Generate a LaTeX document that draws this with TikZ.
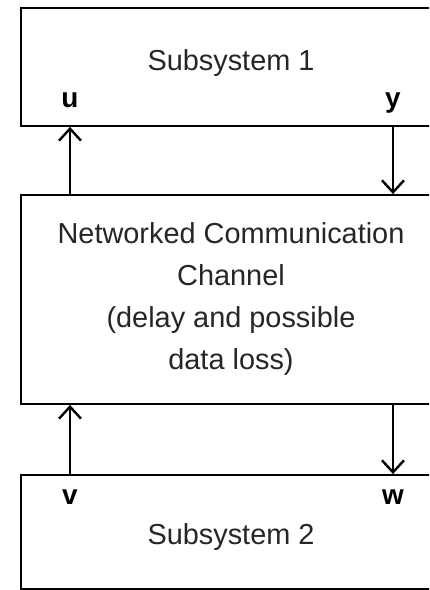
\documentclass[tikz,border=0pt]{standalone}
\usepackage{fontspec}
\setmainfont{Liberation Sans}
\usetikzlibrary{arrows.meta}
\begin{document}
\begin{tikzpicture}[x=1bp,y=-1bp,
  blockbox/.style={draw=black,line width=1.8bp,rectangle,inner sep=0pt},
  lbl/.style={font=\fontsize{29}{42}\selectfont,text=black!85,inner sep=0pt},
  sig/.style={font=\bfseries\fontsize{28}{34}\selectfont,inner sep=0pt},
  arr/.style={line width=1.7bp,-{Straight Barb[length=12bp,width=22bp,line width=2.4bp]}}]
\useasboundingbox (0,0) rectangle (429,590);
\clip (0,0) rectangle (429,590);
\node[blockbox,minimum width=420bp,minimum height=118bp] (box1) at (231,67) {};
\node[blockbox,minimum width=420bp,minimum height=209bp] (box2) at (231,299.5) {};
\node[blockbox,minimum width=420bp,minimum height=114bp] (box3) at (231,532) {};
\coordinate (ux) at (70,0);
\coordinate (yx) at (393,0);
\node[lbl] (t1) at (231,63) {Subsystem 1};
\node[lbl,align=center] (t2) at (231,299) {Networked Communication\\Channel\\(delay and possible\\data loss)};
\node[lbl] (t3) at (231,537) {Subsystem 2};
\node[sig] (u) at (70,100) {u};
\node[sig] (y) at (393,103) {y};
\node[sig] (v) at (70,497) {v};
\node[sig] (w) at (393,497) {w};
\draw[arr] (ux |- box2.north) -- (ux |- box1.south);
\draw[arr] (yx |- box1.south) -- (yx |- box2.north);
\draw[arr] (ux |- box3.north) -- (ux |- box2.south);
\draw[arr] (yx |- box2.south) -- (yx |- box3.north);
\end{tikzpicture}
\end{document}
